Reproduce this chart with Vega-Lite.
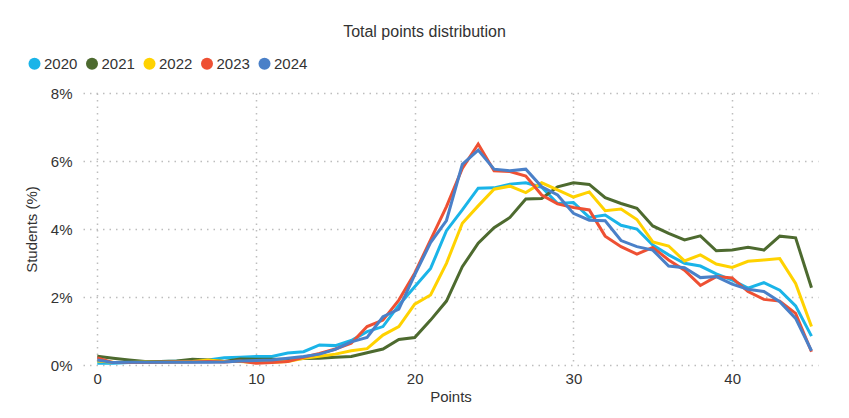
{
  "$schema": "https://vega.github.io/schema/vega-lite/v6.json",
  "width": 735,
  "height": 272,
  "autosize": {"type": "none"},
  "padding": {"left": 83, "top": 93, "right": 31, "bottom": 53},
  "background": "white",
  "title": {"text": "Total points distribution", "anchor": "middle", "frame": "group", "dx": -26, "offset": 16, "fontSize": 16, "fontWeight": "normal", "font": "Liberation Sans", "color": "#333333"},
  "data": {"values": [
    {"year":"2020","points":0,"pct":0.05},{"year":"2020","points":1,"pct":0.05},{"year":"2020","points":2,"pct":0.07},{"year":"2020","points":3,"pct":0.1},{"year":"2020","points":4,"pct":0.1},{"year":"2020","points":5,"pct":0.11},{"year":"2020","points":6,"pct":0.11},{"year":"2020","points":7,"pct":0.15},{"year":"2020","points":8,"pct":0.21},{"year":"2020","points":9,"pct":0.23},{"year":"2020","points":10,"pct":0.25},{"year":"2020","points":11,"pct":0.25},{"year":"2020","points":12,"pct":0.35},{"year":"2020","points":13,"pct":0.39},{"year":"2020","points":14,"pct":0.59},{"year":"2020","points":15,"pct":0.57},{"year":"2020","points":16,"pct":0.72},{"year":"2020","points":17,"pct":0.98},{"year":"2020","points":18,"pct":1.13},{"year":"2020","points":19,"pct":1.76},{"year":"2020","points":20,"pct":2.3},{"year":"2020","points":21,"pct":2.84},{"year":"2020","points":22,"pct":3.95},{"year":"2020","points":23,"pct":4.56},{"year":"2020","points":24,"pct":5.2},{"year":"2020","points":25,"pct":5.21},{"year":"2020","points":26,"pct":5.32},{"year":"2020","points":27,"pct":5.36},{"year":"2020","points":28,"pct":5.23},{"year":"2020","points":29,"pct":4.75},{"year":"2020","points":30,"pct":4.78},{"year":"2020","points":31,"pct":4.34},{"year":"2020","points":32,"pct":4.41},{"year":"2020","points":33,"pct":4.11},{"year":"2020","points":34,"pct":4.0},{"year":"2020","points":35,"pct":3.53},{"year":"2020","points":36,"pct":3.24},{"year":"2020","points":37,"pct":2.99},{"year":"2020","points":38,"pct":2.91},{"year":"2020","points":39,"pct":2.68},{"year":"2020","points":40,"pct":2.5},{"year":"2020","points":41,"pct":2.26},{"year":"2020","points":42,"pct":2.42},{"year":"2020","points":43,"pct":2.2},{"year":"2020","points":44,"pct":1.74},{"year":"2020","points":45,"pct":0.85},
    {"year":"2021","points":0,"pct":0.26},{"year":"2021","points":1,"pct":0.2},{"year":"2021","points":2,"pct":0.15},{"year":"2021","points":3,"pct":0.1},{"year":"2021","points":4,"pct":0.1},{"year":"2021","points":5,"pct":0.12},{"year":"2021","points":6,"pct":0.17},{"year":"2021","points":7,"pct":0.15},{"year":"2021","points":8,"pct":0.1},{"year":"2021","points":9,"pct":0.18},{"year":"2021","points":10,"pct":0.17},{"year":"2021","points":11,"pct":0.17},{"year":"2021","points":12,"pct":0.17},{"year":"2021","points":13,"pct":0.19},{"year":"2021","points":14,"pct":0.2},{"year":"2021","points":15,"pct":0.23},{"year":"2021","points":16,"pct":0.25},{"year":"2021","points":17,"pct":0.36},{"year":"2021","points":18,"pct":0.47},{"year":"2021","points":19,"pct":0.75},{"year":"2021","points":20,"pct":0.81},{"year":"2021","points":21,"pct":1.32},{"year":"2021","points":22,"pct":1.88},{"year":"2021","points":23,"pct":2.89},{"year":"2021","points":24,"pct":3.58},{"year":"2021","points":25,"pct":4.04},{"year":"2021","points":26,"pct":4.34},{"year":"2021","points":27,"pct":4.88},{"year":"2021","points":28,"pct":4.9},{"year":"2021","points":29,"pct":5.24},{"year":"2021","points":30,"pct":5.36},{"year":"2021","points":31,"pct":5.31},{"year":"2021","points":32,"pct":4.92},{"year":"2021","points":33,"pct":4.75},{"year":"2021","points":34,"pct":4.61},{"year":"2021","points":35,"pct":4.09},{"year":"2021","points":36,"pct":3.87},{"year":"2021","points":37,"pct":3.68},{"year":"2021","points":38,"pct":3.8},{"year":"2021","points":39,"pct":3.36},{"year":"2021","points":40,"pct":3.38},{"year":"2021","points":41,"pct":3.46},{"year":"2021","points":42,"pct":3.38},{"year":"2021","points":43,"pct":3.79},{"year":"2021","points":44,"pct":3.74},{"year":"2021","points":45,"pct":2.27},
    {"year":"2022","points":0,"pct":0.12},{"year":"2022","points":1,"pct":0.08},{"year":"2022","points":2,"pct":0.07},{"year":"2022","points":3,"pct":0.09},{"year":"2022","points":4,"pct":0.08},{"year":"2022","points":5,"pct":0.09},{"year":"2022","points":6,"pct":0.1},{"year":"2022","points":7,"pct":0.15},{"year":"2022","points":8,"pct":0.1},{"year":"2022","points":9,"pct":0.1},{"year":"2022","points":10,"pct":0.07},{"year":"2022","points":11,"pct":0.08},{"year":"2022","points":12,"pct":0.1},{"year":"2022","points":13,"pct":0.2},{"year":"2022","points":14,"pct":0.26},{"year":"2022","points":15,"pct":0.32},{"year":"2022","points":16,"pct":0.42},{"year":"2022","points":17,"pct":0.48},{"year":"2022","points":18,"pct":0.88},{"year":"2022","points":19,"pct":1.13},{"year":"2022","points":20,"pct":1.79},{"year":"2022","points":21,"pct":2.06},{"year":"2022","points":22,"pct":2.99},{"year":"2022","points":23,"pct":4.17},{"year":"2022","points":24,"pct":4.68},{"year":"2022","points":25,"pct":5.17},{"year":"2022","points":26,"pct":5.26},{"year":"2022","points":27,"pct":5.07},{"year":"2022","points":28,"pct":5.36},{"year":"2022","points":29,"pct":5.15},{"year":"2022","points":30,"pct":4.94},{"year":"2022","points":31,"pct":5.09},{"year":"2022","points":32,"pct":4.54},{"year":"2022","points":33,"pct":4.59},{"year":"2022","points":34,"pct":4.28},{"year":"2022","points":35,"pct":3.62},{"year":"2022","points":36,"pct":3.5},{"year":"2022","points":37,"pct":3.06},{"year":"2022","points":38,"pct":3.24},{"year":"2022","points":39,"pct":2.97},{"year":"2022","points":40,"pct":2.87},{"year":"2022","points":41,"pct":3.05},{"year":"2022","points":42,"pct":3.09},{"year":"2022","points":43,"pct":3.13},{"year":"2022","points":44,"pct":2.4},{"year":"2022","points":45,"pct":1.13},
    {"year":"2023","points":0,"pct":0.21},{"year":"2023","points":1,"pct":0.07},{"year":"2023","points":2,"pct":0.07},{"year":"2023","points":3,"pct":0.07},{"year":"2023","points":4,"pct":0.08},{"year":"2023","points":5,"pct":0.09},{"year":"2023","points":6,"pct":0.09},{"year":"2023","points":7,"pct":0.1},{"year":"2023","points":8,"pct":0.09},{"year":"2023","points":9,"pct":0.12},{"year":"2023","points":10,"pct":0.05},{"year":"2023","points":11,"pct":0.07},{"year":"2023","points":12,"pct":0.1},{"year":"2023","points":13,"pct":0.23},{"year":"2023","points":14,"pct":0.34},{"year":"2023","points":15,"pct":0.47},{"year":"2023","points":16,"pct":0.64},{"year":"2023","points":17,"pct":1.13},{"year":"2023","points":18,"pct":1.32},{"year":"2023","points":19,"pct":1.91},{"year":"2023","points":20,"pct":2.7},{"year":"2023","points":21,"pct":3.68},{"year":"2023","points":22,"pct":4.66},{"year":"2023","points":23,"pct":5.78},{"year":"2023","points":24,"pct":6.5},{"year":"2023","points":25,"pct":5.71},{"year":"2023","points":26,"pct":5.69},{"year":"2023","points":27,"pct":5.56},{"year":"2023","points":28,"pct":5.0},{"year":"2023","points":29,"pct":4.74},{"year":"2023","points":30,"pct":4.63},{"year":"2023","points":31,"pct":4.56},{"year":"2023","points":32,"pct":3.79},{"year":"2023","points":33,"pct":3.48},{"year":"2023","points":34,"pct":3.26},{"year":"2023","points":35,"pct":3.46},{"year":"2023","points":36,"pct":3.09},{"year":"2023","points":37,"pct":2.79},{"year":"2023","points":38,"pct":2.34},{"year":"2023","points":39,"pct":2.6},{"year":"2023","points":40,"pct":2.56},{"year":"2023","points":41,"pct":2.16},{"year":"2023","points":42,"pct":1.93},{"year":"2023","points":43,"pct":1.88},{"year":"2023","points":44,"pct":1.52},{"year":"2023","points":45,"pct":0.39},
    {"year":"2024","points":0,"pct":0.15},{"year":"2024","points":1,"pct":0.07},{"year":"2024","points":2,"pct":0.08},{"year":"2024","points":3,"pct":0.08},{"year":"2024","points":4,"pct":0.08},{"year":"2024","points":5,"pct":0.08},{"year":"2024","points":6,"pct":0.08},{"year":"2024","points":7,"pct":0.08},{"year":"2024","points":8,"pct":0.09},{"year":"2024","points":9,"pct":0.12},{"year":"2024","points":10,"pct":0.13},{"year":"2024","points":11,"pct":0.15},{"year":"2024","points":12,"pct":0.2},{"year":"2024","points":13,"pct":0.25},{"year":"2024","points":14,"pct":0.32},{"year":"2024","points":15,"pct":0.46},{"year":"2024","points":16,"pct":0.68},{"year":"2024","points":17,"pct":0.81},{"year":"2024","points":18,"pct":1.42},{"year":"2024","points":19,"pct":1.64},{"year":"2024","points":20,"pct":2.65},{"year":"2024","points":21,"pct":3.6},{"year":"2024","points":22,"pct":4.25},{"year":"2024","points":23,"pct":5.9},{"year":"2024","points":24,"pct":6.32},{"year":"2024","points":25,"pct":5.76},{"year":"2024","points":26,"pct":5.71},{"year":"2024","points":27,"pct":5.76},{"year":"2024","points":28,"pct":5.24},{"year":"2024","points":29,"pct":5.0},{"year":"2024","points":30,"pct":4.46},{"year":"2024","points":31,"pct":4.26},{"year":"2024","points":32,"pct":4.24},{"year":"2024","points":33,"pct":3.66},{"year":"2024","points":34,"pct":3.48},{"year":"2024","points":35,"pct":3.38},{"year":"2024","points":36,"pct":2.91},{"year":"2024","points":37,"pct":2.86},{"year":"2024","points":38,"pct":2.57},{"year":"2024","points":39,"pct":2.6},{"year":"2024","points":40,"pct":2.38},{"year":"2024","points":41,"pct":2.23},{"year":"2024","points":42,"pct":2.16},{"year":"2024","points":43,"pct":1.86},{"year":"2024","points":44,"pct":1.37},{"year":"2024","points":45,"pct":0.42}
  ]},
  "mark": {"type": "line", "strokeWidth": 3},
  "encoding": {
    "x": {"field": "points", "type": "quantitative",
      "scale": {"domain": [-0.9, 45.41], "nice": false, "zero": false},
      "axis": {"values": [0, 10, 20, 30, 40], "title": "Points", "labelPadding": 6, "titlePadding": 3}},
    "y": {"field": "pct", "type": "quantitative",
      "scale": {"domain": [0, 8], "nice": false},
      "axis": {"values": [0, 2, 4, 6, 8], "labelExpr": "datum.value + '%'", "title": "Students (%)", "labelPadding": 11, "titlePadding": 11}},
    "color": {"field": "year", "type": "nominal",
      "scale": {"domain": ["2020", "2021", "2022", "2023", "2024"], "range": ["#1ab4e8", "#4d6a2f", "#ffd200", "#ee5033", "#4a80c8"]},
      "legend": {"orient": "none", "legendX": -56, "legendY": -37, "direction": "horizontal", "columns": 5, "title": null, "padding": 0,
        "symbolType": "circle", "symbolSize": 144, "symbolStrokeWidth": 0, "symbolOpacity": 1,
        "labelOffset": 2, "columnPadding": 6.5, "labelFontSize": 15, "labelFont": "Liberation Sans", "labelColor": "#333333",
        "encode": {"symbols": {"update": {"fill": {"scale": "color", "field": "value"}, "fillOpacity": {"value": 1}}}}}}
  },
  "config": {
    "view": {"stroke": null},
    "axis": {"domain": false, "ticks": false, "grid": true, "gridColor": "#bdbdbd", "gridDash": [1.5, 5], "gridWidth": 1.5,
      "labelFont": "Liberation Sans", "labelFontSize": 15, "labelColor": "#333333",
      "titleFont": "Liberation Sans", "titleFontSize": 15, "titleFontWeight": "normal", "titleColor": "#333333"}
  }
}
